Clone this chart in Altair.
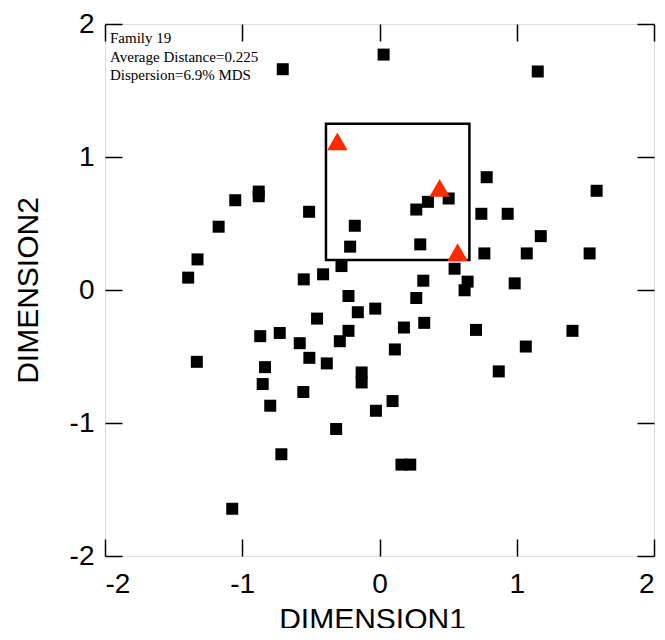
import altair as alt
import pandas as pd

# Black squares (DIMENSION1, DIMENSION2)
sq_x = [0.03, -0.705, 1.153, -1.051, -0.88, -0.88, -0.513, -1.172, -0.18, -0.214,
        -1.326, -0.277, -1.394, -0.552, -0.411, 0.781, 1.582, 0.504, 0.353, 0.268,
        0.742, 0.934, 1.175, 0.297, 0.764, 1.073, 1.531, 0.547, 0.319, 0.642,
        0.62, 0.985, 0.268, -0.031, 0.178, 0.326, 0.703, 1.406, 0.112, 1.066,
        0.869, 0.095, -0.026, 0.16, 0.224, -0.226, -0.158, -0.455, -0.869, -0.727,
        -0.581, -0.226, -0.289, -1.331, -0.511, -0.384, -0.834, -0.13, -0.13, -0.851,
        -0.555, -0.796, -0.316, -0.715, -1.073]
sq_y = [1.77, 1.66, 1.643, 0.675, 0.74, 0.705, 0.588, 0.476, 0.483, 0.326,
        0.23, 0.18, 0.093, 0.08, 0.118, 0.848, 0.746, 0.688, 0.663, 0.605,
        0.573, 0.573, 0.405, 0.343, 0.275, 0.275, 0.275, 0.16, 0.07, 0.063,
        -0.002, 0.05, -0.06, -0.14, -0.282, -0.247, -0.3, -0.307, -0.447, -0.425,
        -0.612, -0.835, -0.908, -1.313, -1.313, -0.045, -0.167, -0.215, -0.347, -0.323,
        -0.4, -0.307, -0.385, -0.54, -0.51, -0.552, -0.58, -0.62, -0.695, -0.707,
        -0.767, -0.87, -1.045, -1.235, -1.645]

# Red triangles
tri_x = [-0.307, 0.438, 0.569]
tri_y = [1.118, 0.767, 0.284]

# Highlight box
box_x = [-0.39]
box_x2 = [0.655]
box_y = [0.225]
box_y2 = [1.25]

tick_vals = [-2, -1, 0, 1, 2]
info_text = "Family 19\nAverage Distance=0.225\nDispersion=6.9% MDS"

W, H = 549, 532

sq = pd.DataFrame({"x": sq_x, "y": sq_y})
tr = pd.DataFrame({"x": tri_x, "y": tri_y})
bx = pd.DataFrame({"x": box_x, "x2": box_x2, "y": box_y, "y2": box_y2})
tx = pd.DataFrame({"t": [info_text]})

xs = alt.Scale(domain=[-2, 2], nice=False, zero=False)
ys = alt.Scale(domain=[-2, 2], nice=False, zero=False)

LF = "Liberation Sans"

main_x = alt.Axis(values=tick_vals, ticks=False, tickSize=0, domain=False, grid=False,
                  labelFont=LF, labelFontSize=28, labelColor="black", labelPadding=14,
                  title="DIMENSION1", titleFont=LF, titleFontSize=30, titleFontWeight="normal",
                  titleColor="black", titleX=267, titleY=72, titleBaseline="alphabetic",
                  titleAlign="center", orient="bottom")
main_y = alt.Axis(values=tick_vals, ticks=False, tickSize=0, domain=False, grid=False,
                  labelFont=LF, labelFontSize=28, labelColor="black", labelPadding=11,
                  title="DIMENSION2", titleFont=LF, titleFontSize=30, titleFontWeight="normal",
                  titleColor="black", titleX=-68, titleY=266, titleBaseline="alphabetic",
                  titleAlign="center", titleAngle=-90, orient="left")


def tick_axis(orient):
    return alt.Axis(values=tick_vals, orient=orient, offset=-17, tickSize=17, ticks=True,
                    tickColor="black", tickWidth=1.5, labels=False, domain=False,
                    grid=False, title=None)


box = alt.Chart(bx).mark_rect(filled=False, stroke="black", strokeWidth=2.5).encode(
    x=alt.X("x:Q", scale=xs, axis=tick_axis("top")),
    x2="x2:Q",
    y=alt.Y("y:Q", scale=ys, axis=tick_axis("right")),
    y2="y2:Q",
)

squares = alt.Chart(sq).mark_square(size=144, color="black", opacity=1).encode(
    x=alt.X("x:Q", scale=xs, axis=main_x),
    y=alt.Y("y:Q", scale=ys, axis=main_y),
)

tris = alt.Chart(tr).mark_point(shape="triangle-up", filled=True, size=420,
                                color="#ff2a00", opacity=1).encode(
    x=alt.X("x:Q", scale=xs, axis=tick_axis("bottom")),
    y=alt.Y("y:Q", scale=ys, axis=tick_axis("left")),
)

label = alt.Chart(tx).mark_text(align="left", baseline="alphabetic", font="Liberation Serif",
                                fontSize=15, lineHeight=18.5, lineBreak="\n",
                                color="black").encode(
    x=alt.value(5), y=alt.value(19), text="t:N")

chart = alt.layer(box, squares, tris, label).resolve_axis(
    x="independent", y="independent"
).properties(
    width=W, height=H,
    autosize=alt.AutoSizeParams(type="none"),
    padding={"left": 97, "top": 16, "right": 2, "bottom": 72},
).configure_view(stroke="black", strokeWidth=2).configure(
    background="white",
    locale={"number": {"decimal": ".", "thousands": ",", "grouping": [3],
                       "currency": ["$", ""], "minus": "-"}},
)

chart.save("out.html", embed_options={"renderer": "svg", "actions": False})
